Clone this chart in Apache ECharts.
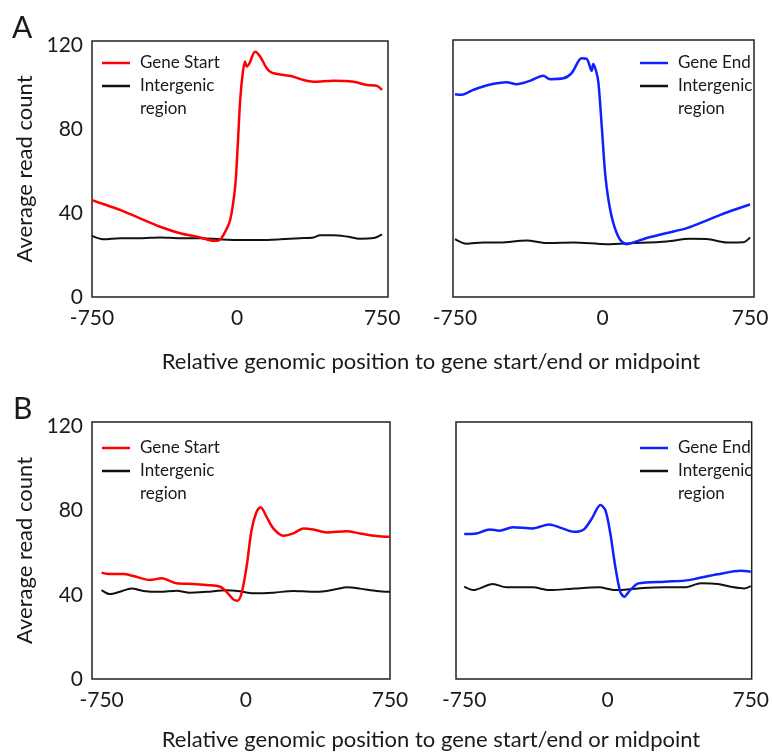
<!DOCTYPE html>
<html lang="en">
<head>
    <meta charset="UTF-8">
    <title>Read count profiles</title>
    <script src="https://cdn.jsdelivr.net/npm/echarts@6.0.0/dist/echarts.min.js"></script>
</head>
<style>
html,body{margin:0;padding:0;background-color:#fff}
#chartBox{width:772px;height:753px}
</style>
<body>
    <div id="chartBox"></div>
</body>
<script>
// tick labels
const xTicks = [-750, 0, 750];
const yTicks = [0, 40, 80, 120];

// panel A, gene start
const aStartPos = [-750, -692, -605, -502, -398, -295, -191, -122, -97, -71, -36, -10, 2, 16, 29, 41, 50, 64, 93, 119, 153, 179, 240, 291, 343, 395, 498, 602, 671, 723, 749];
const aStartVal = [46.2, 44.3, 41.5, 37.5, 33.5, 30.4, 28.4, 26.8, 26.9, 29.5, 36.7, 52.6, 70, 93.9, 106.6, 112.2, 109.8, 111.4, 116.9, 114.6, 109, 106.9, 105.8, 105, 103.4, 102.6, 103.1, 102.6, 101, 100.6, 98.7];
const aInterLPos = [-750, -692, -605, -502, -398, -295, -191, -88, 16, 119, 222, 326, 395, 429, 498, 567, 636, 705, 749];
const aInterLVal = [29.1, 27.5, 28, 28, 28.4, 28, 28, 27.5, 27.2, 27.2, 27.5, 28, 28.4, 29.4, 29.4, 28.8, 27.8, 28.1, 29.9];

// panel A, gene end
const aEndPos = [-750, -716, -657, -581, -487, -436, -369, -301, -267, -199, -157, -106, -80, -55, -47, -33, -21, -4, 13, 30, 55, 89, 123, 157, 225, 327, 428, 546, 648, 750];
const aEndVal = [96.3, 96, 98.3, 100.6, 101.9, 101, 102.6, 105, 103.4, 103.8, 106.3, 113.3, 113, 107.4, 110.6, 107.4, 101.9, 81.2, 59, 46.2, 35.1, 27.2, 25.1, 25.9, 28, 30.4, 32.7, 37, 40.7, 43.9];
const aInterRPos = [-750, -691, -606, -521, -386, -284, -148, 21, 157, 327, 445, 530, 632, 716, 750];
const aInterRVal = [27.5, 25.3, 25.9, 25.9, 26.8, 25.6, 25.9, 25.1, 25.6, 26.4, 27.6, 27.5, 25.9, 26, 28.3];

// panel B, gene start
const bStartPos = [-750, -707, -638, -585, -499, -438, -360, -273, -204, -134, -100, -65, -44, -22, 4, 30, 56, 77, 108, 143, 195, 247, 299, 351, 421, 525, 594, 681, 750];
const bStartVal = [50.5, 49.8, 49.8, 48.9, 47, 47.8, 45.4, 45.1, 44.6, 43.8, 41.4, 37.8, 37.2, 40.7, 53.3, 70.7, 79.4, 81.5, 77, 71.5, 68, 69.1, 71.5, 71, 69.6, 70.1, 69.1, 67.9, 67.5];
const bInterLPos = [-750, -707, -655, -594, -533, -447, -360, -291, -204, -100, -30, 39, 143, 247, 351, 421, 473, 525, 594, 681, 750];
const bInterLVal = [42.2, 40.3, 41.4, 43, 41.8, 41.4, 41.9, 41, 41.4, 42.1, 41.6, 40.7, 41, 41.8, 41.4, 41.8, 42.7, 43.5, 42.9, 41.8, 41.4];

// panel B, gene end
const bEndPos = [-750, -686, -617, -565, -496, -392, -305, -236, -176, -124, -81, -37, -11, 15, 41, 67, 88, 119, 162, 300, 404, 473, 577, 698, 750];
const bEndVal = [68.8, 69.1, 71, 70.4, 72, 71.5, 73.4, 71.5, 69.9, 71, 76.3, 82.6, 80.2, 69.1, 53.3, 41.4, 39.1, 42.2, 45.4, 46.2, 46.7, 47.8, 49.7, 51.4, 50.9];
const bInterRPos = [-750, -703, -600, -530, -392, -305, -167, -46, 41, 162, 300, 404, 490, 577, 646, 716, 750];
const bInterRVal = [43.8, 42.2, 45.1, 43.5, 43.5, 42.2, 43, 43.5, 42.2, 43, 43.5, 43.5, 45.4, 45.1, 43.8, 43, 44.1];

const FONT = 'Lato';
const TXT = '#1a1a1a';
const RED = '#ff0000';
const BLUE = '#1020ff';
const BLK = '#111111';

function zip(pos, val) {
    return pos.map((p, i) => [p, val[i]]);
}

function panelAxes(gridIndex, xMin, xMax, withY) {
    let x = {
        type: 'value', gridIndex: gridIndex, min: xMin, max: xMax,
        axisLine: {show: false}, axisTick: {show: false}, splitLine: {show: false},
        axisLabel: {customValues: xTicks, fontFamily: FONT, fontSize: 21, color: TXT, margin: 11}
    };
    let y = {
        type: 'value', gridIndex: gridIndex, min: 0, max: 122,
        axisLine: {show: false}, axisTick: {show: false}, splitLine: {show: false},
        axisLabel: {show: withY, customValues: yTicks, fontFamily: FONT, fontSize: 21, color: TXT, margin: 9}
    };
    if (withY) {
        y.name = 'Average read count';
        y.nameLocation = 'middle';
        y.nameGap = 56;
        y.nameTextStyle = {fontFamily: FONT, fontSize: 22, color: TXT};
    }
    return [x, y];
}

function lineSeries(idx, color, width, data) {
    return {
        type: 'line', xAxisIndex: idx, yAxisIndex: idx, data: data,
        showSymbol: false, smooth: 0.3,
        lineStyle: {color: color, width: width}, itemStyle: {color: color},
        silent: true
    };
}

// legend drawn by hand, it sits inside each box
function legendGraphics(x0, y0, color, label) {
    let t = {fontFamily: FONT, fontSize: 17, fill: TXT, verticalAlign: 'middle'};
    return [
        {type: 'line', shape: {x1: x0, y1: y0, x2: x0 + 28, y2: y0}, style: {stroke: color, lineWidth: 2.5}},
        {type: 'text', x: x0 + 38, y: y0, style: Object.assign({text: label}, t)},
        {type: 'line', shape: {x1: x0, y1: y0 + 23, x2: x0 + 28, y2: y0 + 23}, style: {stroke: BLK, lineWidth: 2.5}},
        {type: 'text', x: x0 + 38, y: y0 + 23, style: Object.assign({text: 'Intergenic'}, t)},
        {type: 'text', x: x0 + 38, y: y0 + 46, style: Object.assign({text: 'region'}, t)}
    ];
}

function generateChartOption() {
    let axA1 = panelAxes(0, -750, 780, true);
    let axA2 = panelAxes(1, -760, 770, false);
    let axB1 = panelAxes(2, -800, 750, true);
    let axB2 = panelAxes(3, -793, 755, false);
    let box = {show: true, borderColor: '#222', borderWidth: 1.5, backgroundColor: 'transparent'};
    let titleStyle = {fontFamily: FONT, fontSize: 22, fill: TXT, align: 'center', verticalAlign: 'middle'};
    return {
        animation: false,
        grid: [
            Object.assign({left: 92, top: 41, width: 296, height: 256}, box),
            Object.assign({left: 453, top: 40, width: 301, height: 257}, box),
            Object.assign({left: 92, top: 422, width: 298, height: 257}, box),
            Object.assign({left: 456, top: 422, width: 298, height: 257}, box)
        ],
        xAxis: [axA1[0], axA2[0], axB1[0], axB2[0]],
        yAxis: [axA1[1], axA2[1], axB1[1], axB2[1]],
        series: [
            lineSeries(0, BLK, 2, zip(aInterLPos, aInterLVal)),
            lineSeries(0, RED, 2.5, zip(aStartPos, aStartVal)),
            lineSeries(1, BLK, 2, zip(aInterRPos, aInterRVal)),
            lineSeries(1, BLUE, 2.5, zip(aEndPos, aEndVal)),
            lineSeries(2, BLK, 2, zip(bInterLPos, bInterLVal)),
            lineSeries(2, RED, 2.5, zip(bStartPos, bStartVal)),
            lineSeries(3, BLK, 2, zip(bInterRPos, bInterRVal)),
            lineSeries(3, BLUE, 2.5, zip(bEndPos, bEndVal))
        ],
        graphic: [
            {type: 'text', x: 12, y: 28, style: {text: 'A', fontFamily: FONT, fontSize: 30, fill: TXT, verticalAlign: 'middle'}},
            {type: 'text', x: 13, y: 409, style: {text: 'B', fontFamily: FONT, fontSize: 30, fill: TXT, verticalAlign: 'middle'}},
            {type: 'text', x: 431, y: 362, style: Object.assign({text: 'Relative genomic position to gene start/end or midpoint'}, titleStyle)},
            {type: 'text', x: 431, y: 740, style: Object.assign({text: 'Relative genomic position to gene start/end or midpoint'}, titleStyle)}
        ].concat(
            legendGraphics(102, 63, RED, 'Gene Start'),
            legendGraphics(640, 63, BLUE, 'Gene End'),
            legendGraphics(102, 448, RED, 'Gene Start'),
            legendGraphics(640, 448, BLUE, 'Gene End'),
            [
                // the figure cuts "Intergenic" at the right border
                {type: 'rect', z: 100, shape: {x: 755.5, y: 70, width: 17, height: 30}, style: {fill: '#fff'}},
                {type: 'rect', z: 100, shape: {x: 755.5, y: 455, width: 17, height: 30}, style: {fill: '#fff'}}
            ]
        )
    };
}

let chartObj = echarts.init(document.getElementById('chartBox'), null, {renderer: 'canvas'});
chartObj.setOption(generateChartOption());
</script>
</html>
